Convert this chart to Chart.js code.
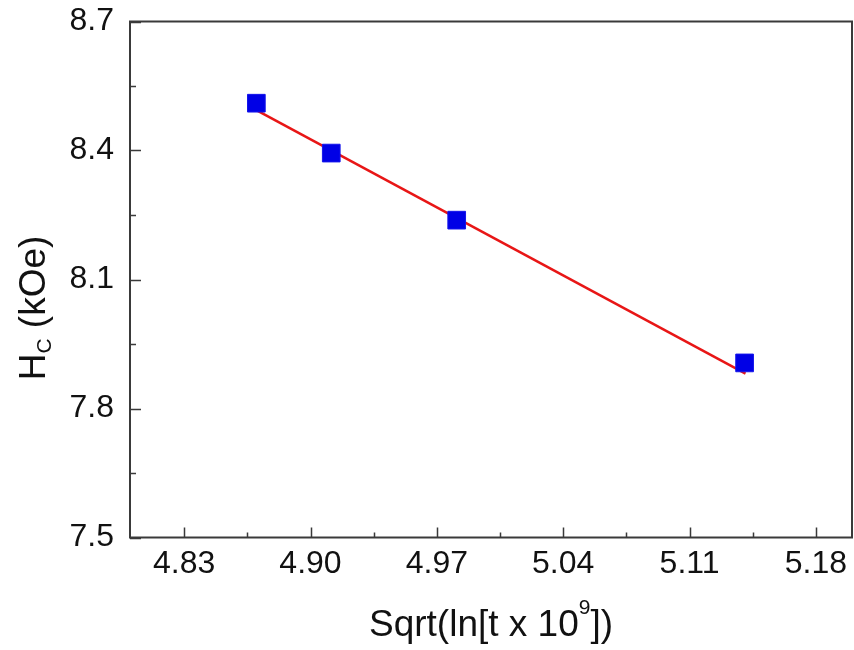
<!DOCTYPE html>
<html><head><meta charset="utf-8">
<script src="https://cdn.jsdelivr.net/npm/chart.js@4/dist/chart.umd.min.js"></script>
<style>html,body{margin:0;padding:0;background:#fff;} canvas{display:block;}</style>
</head><body>
<canvas id="c" width="854" height="650"></canvas>
<script>
// ---- data ----
const sqrtLnT = [4.870, 4.9115, 4.981, 5.1405];
const hcValues = [8.510, 8.394, 8.238, 7.906];
const fitX = [4.870, 5.141];
const fitY = [8.494, 7.881];
const xTickValues = [4.83, 4.90, 4.97, 5.04, 5.11, 5.18];
const yTickValues = [7.5, 7.8, 8.1, 8.4, 8.7];
const xMinorValues = [4.865, 4.935, 5.005, 5.075, 5.145];
const yMinorValues = [7.65, 7.95, 8.25, 8.55];
const xTitleParts = ['Sqrt(ln[t x 10', '9', '])'];
const yTitleParts = ['H', 'C', ' (kOe)'];

const FONT = '"Liberation Sans", Arial, sans-serif';

const framePlugin = {
  id: 'frameTicks',
  afterDraw(chart) {
    const ctx = chart.ctx, a = chart.chartArea;
    const xs = chart.scales.x, ys = chart.scales.y;
    ctx.save();
    ctx.strokeStyle = '#3a3a3a';
    ctx.lineWidth = 2;
    ctx.strokeRect(a.left, a.top, a.right - a.left, a.bottom - a.top);
    ctx.lineWidth = 1.5;
    ctx.beginPath();
    xTickValues.forEach(v => { const p = Math.round(xs.getPixelForValue(v)) + 0.5; ctx.moveTo(p, a.bottom); ctx.lineTo(p, a.bottom - 10); });
    xMinorValues.forEach(v => { const p = Math.round(xs.getPixelForValue(v)) + 0.5; ctx.moveTo(p, a.bottom); ctx.lineTo(p, a.bottom - 5); });
    yTickValues.forEach(v => { const p = Math.round(ys.getPixelForValue(v)) + 0.5; ctx.moveTo(a.left, p); ctx.lineTo(a.left + 11, p); });
    yMinorValues.forEach(v => { const p = Math.round(ys.getPixelForValue(v)) + 0.5; ctx.moveTo(a.left, p); ctx.lineTo(a.left + 6, p); });
    ctx.stroke();

    // axis titles with sub/superscripts
    ctx.fillStyle = '#111';
    ctx.textBaseline = 'alphabetic';
    // x title
    const bigX = '37px ' + FONT, smallX = '21px ' + FONT;
    ctx.font = bigX; const w1 = ctx.measureText(xTitleParts[0]).width; const w3 = ctx.measureText(xTitleParts[2]).width;
    ctx.font = smallX; const w2 = ctx.measureText(xTitleParts[1]).width;
    const total = w1 + w2 + w3;
    let x0 = (a.left + a.right) / 2 - total / 2;
    const base = 636;
    ctx.textAlign = 'left';
    ctx.font = bigX; ctx.fillText(xTitleParts[0], x0, base);
    ctx.font = smallX; ctx.fillText(xTitleParts[1], x0 + w1, base - 22);
    ctx.font = bigX; ctx.fillText(xTitleParts[2], x0 + w1 + w2, base);
    // y title (rotated)
    const bigY = '37px ' + FONT, smallY = '21px ' + FONT;
    ctx.font = bigY; const h1 = ctx.measureText(yTitleParts[0]).width; const h3 = ctx.measureText(yTitleParts[2]).width;
    ctx.font = smallY; const h2 = ctx.measureText(yTitleParts[1]).width;
    const tot = h1 + h2 + h3;
    ctx.translate(45, 308);
    ctx.rotate(-Math.PI / 2);
    let s = -tot / 2;
    ctx.font = bigY; ctx.fillText(yTitleParts[0], s, 0);
    ctx.font = smallY; ctx.fillText(yTitleParts[1], s + h1, 6);
    ctx.font = bigY; ctx.fillText(yTitleParts[2], s + h1 + h2, 0);
    ctx.restore();
  }
};

function noPad(s) { s.paddingTop = 0; s.paddingBottom = 0; s.paddingLeft = 0; s.paddingRight = 0; }

new Chart(document.getElementById('c'), {
  type: 'scatter',
  data: {
    datasets: [
      {
        label: 'Hc',
        data: sqrtLnT.map((x, i) => ({ x, y: hcValues[i] })),
        pointStyle: 'rect',
        pointRadius: 12.5,
        pointHoverRadius: 12.5,
        backgroundColor: 'rgb(0,0,230)',
        borderColor: 'rgb(20,20,235)',
        borderWidth: 1,
        order: 0
      },
      {
        type: 'line',
        label: 'fit',
        data: fitX.map((x, i) => ({ x, y: fitY[i] })),
        borderColor: 'rgb(232,22,22)',
        borderWidth: 2.5,
        pointRadius: 0,
        fill: false,
        tension: 0,
        order: 1
      }
    ]
  },
  options: {
    responsive: false,
    animation: false,
    devicePixelRatio: 1,
    layout: { autoPadding: false, padding: { top: 21.5, right: 2, left: 0, bottom: 0 } },
    plugins: { legend: { display: false }, tooltip: { enabled: false } },
    scales: {
      x: {
        type: 'linear', min: 4.80, max: 5.20,
        afterBuildTicks: s => { s.ticks = xTickValues.map(v => ({ value: v })); },
        afterFit: s => { s.height = 112.5; noPad(s); },
        ticks: { font: { family: FONT, size: 32 }, color: '#111', padding: 7, maxRotation: 0, autoSkip: false,
                 callback: v => Number(v).toFixed(2) },
        grid: { display: false, drawTicks: false }, border: { display: false }
      },
      y: {
        type: 'linear', min: 7.5, max: 8.7,
        afterBuildTicks: s => { s.ticks = yTickValues.map(v => ({ value: v })); },
        afterFit: s => { s.width = 130; noPad(s); },
        ticks: { font: { family: FONT, size: 32 }, color: '#111', padding: 16, autoSkip: false,
                 callback: v => Number(v).toFixed(1) },
        grid: { display: false, drawTicks: false }, border: { display: false }
      }
    }
  },
  plugins: [framePlugin]
});
</script>
</body></html>
